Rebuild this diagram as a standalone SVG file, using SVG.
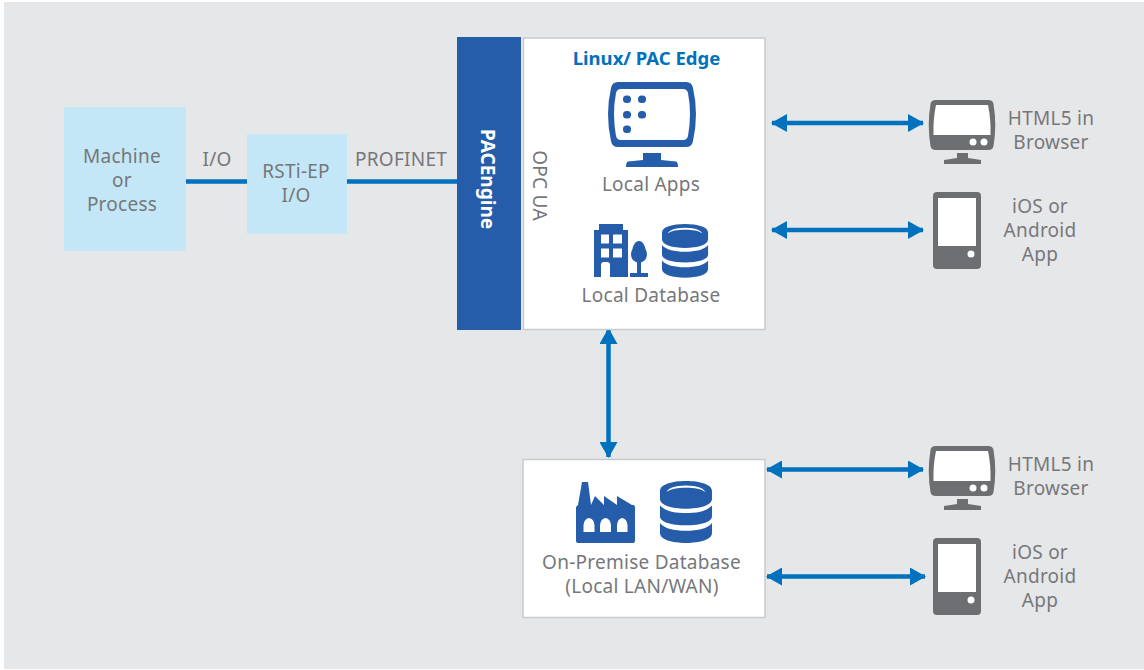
<svg xmlns="http://www.w3.org/2000/svg" width="1144" height="670" viewBox="0 0 1144 670">
<style>
text{font-family:"Noto Sans","Open Sans","Liberation Sans",sans-serif;font-size:19px;letter-spacing:.25px;fill:#76777a;text-anchor:middle}
.lb{fill:#c3e7f6}
.wb{fill:#fff;stroke:#c8cacc;stroke-width:1.5}
.conn{stroke:#0071bc;stroke-width:4.5;fill:none}
.ic{fill:#265dab}
.gr{fill:#6d6e71}
</style>
<defs>
<marker id="a" viewBox="0 0 16 18" refX="15" refY="9" markerWidth="16" markerHeight="18" markerUnits="userSpaceOnUse" orient="auto-start-reverse"><path d="M0 0L16 9L0 18Z" fill="#0071bc"/></marker>
<g id="db">
<path class="ic" fill-rule="evenodd" d="M0 9C0 3 11 0 24 0S48 3 48 9V16C48 22 37 25 24 25S0 22 0 16ZM24 4C13 4 7 7 6 10C10 7 16 6 24 6S38 7 42 10C41 7 35 4 24 4Z"/>
<path class="ic" d="M0 22C4 27 13 29 24 29S44 27 48 22V32C48 37 37 40 24 40S0 37 0 32Z"/>
<path class="ic" d="M0 38C4 43 13 45 24 45S44 43 48 38V47C48 53 37 56 24 56S0 53 0 47Z"/>
</g>
<g id="gmon">
<path class="gr" d="M936 100H988Q993 100 993.500 104Q997 125 993.500 146Q993 150 988 150H936Q931 150 930.500 146Q927 125 930.500 104Q931 100 936 100Z"/>
<path fill="#fff" d="M936 105H988Q991 119 990.500 135H933.500Q933 119 936 105Z"/>
<circle cx="973" cy="142" r="3.500" fill="#fff"/><circle cx="984" cy="142" r="3.500" fill="#fff"/>
<path class="gr" d="M957 153H968V158L981 160V164H944V160L957 158Z"/>
</g>
<g id="phone">
<rect class="gr" x="933" y="192" width="48" height="77" rx="4"/>
<rect x="938" y="198" width="38" height="48" fill="#fff"/>
<circle cx="971" cy="254" r="3.500" fill="#fff"/>
</g>
</defs>
<rect width="1144" height="670" fill="#fff"/>
<rect x="4" y="2" width="1140" height="667" fill="#e6e7e8"/>
<g id="connectors">
<path class="conn" d="M186 181.500H248"/>
<path class="conn" d="M347 181.500H458"/>
<path class="conn" marker-start="url(#a)" marker-end="url(#a)" d="M772 123H923"/>
<path class="conn" marker-start="url(#a)" marker-end="url(#a)" d="M772 230H923"/>
<path class="conn" marker-start="url(#a)" marker-end="url(#a)" d="M608.500 329V457"/>
<path class="conn" marker-start="url(#a)" marker-end="url(#a)" d="M767 469.500H923"/>
<path class="conn" marker-start="url(#a)" marker-end="url(#a)" d="M767 576.500H925"/>
</g>
<g id="machine"><rect class="lb" x="64" y="107" width="122" height="144"/>
<text x="122" y="163">Machine</text><text x="122" y="187">or</text><text x="122" y="211">Process</text></g>
<g id="rsti"><rect class="lb" x="247" y="134" width="100" height="100"/>
<text x="296" y="178">RSTi-EP</text><text x="296" y="202">I/O</text></g>
<text id="io-label" x="217" y="166">I/O</text>
<text id="profinet-label" x="401" y="166">PROFINET</text>
<g id="pacengine"><rect class="ic" x="457" y="37" width="64" height="293"/>
<text transform="translate(481 179) rotate(90)" style="fill:#fff;font-weight:700;font-size:19px;letter-spacing:0">PACEngine</text></g>
<g id="edge"><rect class="wb" x="523.500" y="38" width="241.500" height="291.500"/>
<text x="646.500" y="65" style="fill:#0071bc;font-weight:700;font-size:18.500px;letter-spacing:0">Linux/ PAC Edge</text>
<text transform="translate(533 185.500) rotate(90)">OPC UA</text>
<g id="local-apps">
<path class="ic" fill-rule="evenodd" d="M618 82H686Q692 82 693 88Q699 114 693 141Q692 147 686 147H618Q612 147 611 141Q605 114 611 88Q612 82 618 82ZM621 89Q617 89 616 93Q612 114 616 136Q617 140 621 140H683Q687 140 688 136Q692 114 688 93Q687 89 683 89Z"/>
<rect class="ic" x="623" y="95.500" width="8" height="7.500" rx="3.500"/><rect class="ic" x="638" y="95.500" width="8" height="7.500" rx="3.500"/>
<rect class="ic" x="623" y="111" width="8" height="7.500" rx="3.500"/><rect class="ic" x="638" y="111" width="8" height="7.500" rx="3.500"/>
<rect class="ic" x="623" y="125.500" width="8" height="7.500" rx="3.500"/>
<path class="ic" d="M643 153H661V160L676 161.500Q678 162 678 167H626Q626 162 628 161.500L643 160Z"/>
<text x="651" y="191">Local Apps</text></g>
<g id="local-db">
<path class="ic" fill-rule="evenodd" d="M594 277V230H599V224H623V230H628V277H610V265Q610 262 607 262H604Q601 262 601 265V277ZM601 234.500V243.500H609V234.500ZM613 234.500V243.500H622V234.500ZM601 248.500V257.500H609V248.500ZM613 248.500V257.500H622V248.500Z"/>
<path class="ic" d="M639 241C643 241 645 246 645.500 249C647.500 252 647.500 257 645 260C644 261 642 262 641 262.500V273H648V277H630V273H637V262.500C636 262 634 261 633 260C630.500 257 630.500 252 632.500 249C633 246 635 241 639 241Z"/>
<use href="#db" transform="translate(662 224) scale(.96)"/>
<text x="651" y="302">Local Database</text></g></g>
<g id="onprem"><rect class="wb" x="523" y="459.500" width="242" height="158"/>
<path class="ic" d="M582 482H588L591 505L595 496L604 505V496L617 505V496L632 505H633Q635 505 635 507V541Q635 543 633 543H578Q576 543 576 541V507L578 505Z"/>
<path fill="#fff" d="M583.500 525Q584 519 589 518Q594 519 594.500 525V532H583.500ZM600 525Q600.500 519 605.500 518Q610.500 519 611 525V532H600ZM617 525Q617.500 519 622 518Q627 519 627.500 525V532H617Z"/>
<use href="#db" transform="translate(660 481) scale(1.083 1.107)"/>
<text x="641.500" y="568.500">On-Premise Database</text><text x="642" y="592.500">(Local LAN/WAN)</text></g>
<g id="browser1"><use href="#gmon"/><text x="1051" y="125">HTML5 in</text><text x="1051" y="149">Browser</text></g>
<g id="app1"><use href="#phone"/><text x="1040" y="213">iOS or</text><text x="1040" y="237">Android</text><text x="1040" y="261">App</text></g>
<g id="browser2"><use href="#gmon" y="346"/><text x="1051" y="471">HTML5 in</text><text x="1051" y="495">Browser</text></g>
<g id="app2"><use href="#phone" y="346"/><text x="1040" y="559">iOS or</text><text x="1040" y="583">Android</text><text x="1040" y="607">App</text></g>
</svg>
